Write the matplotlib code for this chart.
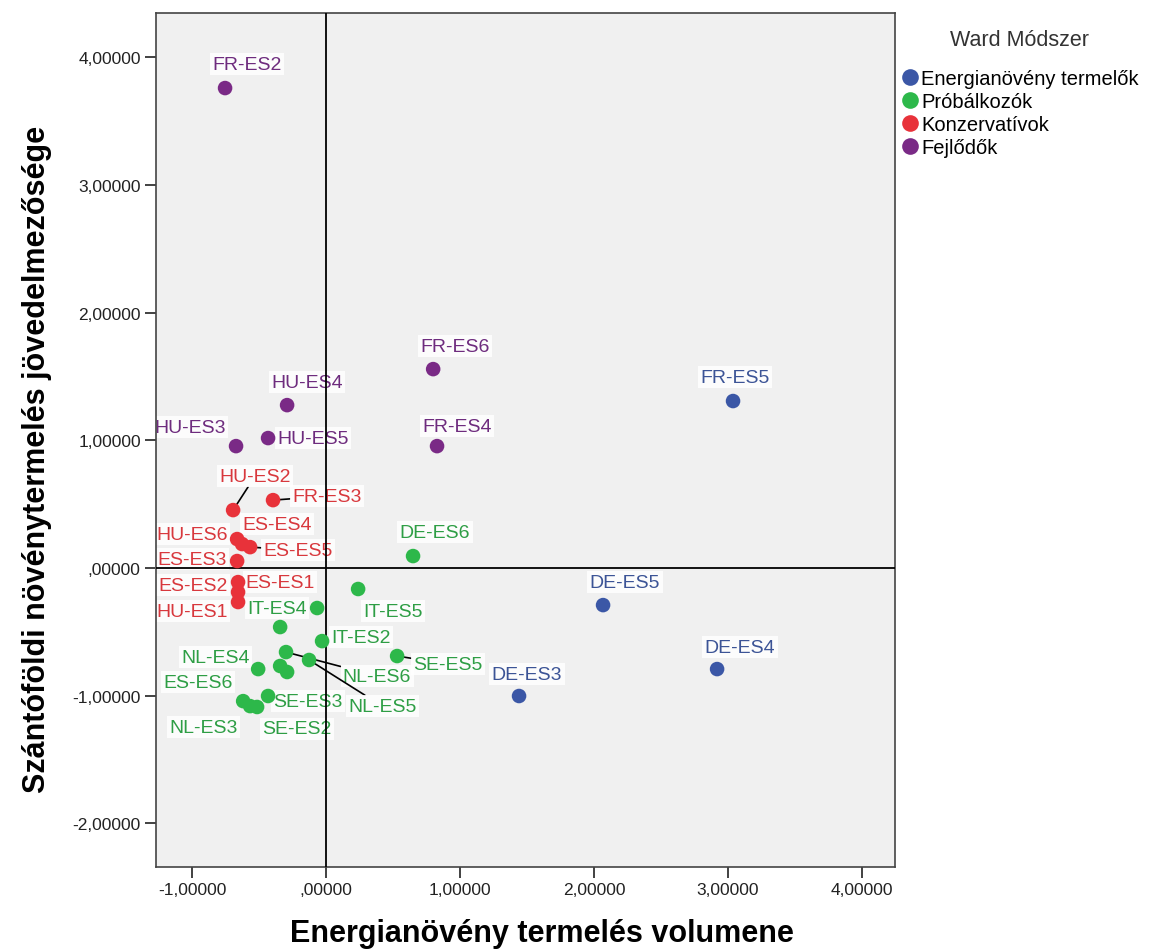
import matplotlib
matplotlib.use("Agg")
import matplotlib.pyplot as plt
from matplotlib.lines import Line2D
from matplotlib.ticker import FuncFormatter

plt.rcParams['font.family'] = ['Liberation Sans', 'DejaVu Sans']

# klaszterek (Ward módszer)
cluster_names = ['Energianövény termelők', 'Próbálkozók', 'Konzervatívok', 'Fejlődők']
cluster_colors = ['#3B57A6', '#2DB84A', '#E8323A', '#7A2A86']
label_colors = ['#3C5496', '#2E9E45', '#D8383D', '#6E2C7E']

# Energianövény termelők
blue_names = ['FR-ES5', 'DE-ES5', 'DE-ES4', 'DE-ES3']
blue_x = [3.037, 2.067, 2.918, 1.440]
blue_y = [1.308, -0.290, -0.791, -1.002]

# Próbálkozók ('' = felirat nélkül)
green_names = ['DE-ES6', 'IT-ES5', 'IT-ES4', 'IT-ES2', 'NL-ES6', 'NL-ES5', 'NL-ES4',
               'ES-ES6', 'SE-ES3', 'NL-ES3', 'SE-ES2', 'SE-ES5', '', '', '']
green_x = [0.649, 0.239, -0.067, -0.030, -0.299, -0.127, -0.507,
           -0.619, -0.433, -0.567, -0.515, 0.530, -0.343, -0.343, -0.291]
green_y = [0.094, -0.164, -0.313, -0.572, -0.658, -0.720, -0.791,
           -1.042, -1.002, -1.081, -1.088, -0.689, -0.462, -0.767, -0.814]

# Konzervatívok
red_names = ['HU-ES2', 'FR-ES3', 'HU-ES6', 'ES-ES4', 'ES-ES5', 'ES-ES3', 'ES-ES2', 'ES-ES1', 'HU-ES1']
red_x = [-0.694, -0.396, -0.664, -0.627, -0.567, -0.664, -0.657, -0.657, -0.657]
red_y = [0.454, 0.532, 0.227, 0.188, 0.164, 0.055, -0.110, -0.188, -0.266]

# Fejlődők
purple_names = ['FR-ES2', 'FR-ES6', 'HU-ES4', 'FR-ES4', 'HU-ES3', 'HU-ES5']
purple_x = [-0.754, 0.799, -0.291, 0.828, -0.672, -0.433]
purple_y = [3.759, 1.558, 1.276, 0.955, 0.955, 1.018]

# feliratok eltolása pixelben (jobbra, fel)
offsets = {
    'FR-ES5': (2, 24), 'DE-ES5': (22, 23), 'DE-ES4': (23, 22), 'DE-ES3': (8, 22),
    'DE-ES6': (22, 24), 'IT-ES5': (35, -22), 'IT-ES4': (-40, 0), 'IT-ES2': (39, 4),
    'NL-ES6': (91, -24), 'NL-ES5': (73, -46), 'NL-ES4': (-43, 12), 'ES-ES6': (-45, 19),
    'SE-ES3': (40, -5), 'NL-ES3': (-47, -21), 'SE-ES2': (40, -22), 'SE-ES5': (51, -8),
    'HU-ES2': (22, 34), 'FR-ES3': (54, 4), 'HU-ES6': (-45, 5), 'ES-ES4': (35, 20),
    'ES-ES5': (48, -3), 'ES-ES3': (-45, 2), 'ES-ES2': (-45, -3), 'ES-ES1': (42, 10),
    'HU-ES1': (-46, -9),
    'FR-ES2': (22, 24), 'FR-ES6': (22, 23), 'HU-ES4': (20, 23), 'FR-ES4': (20, 20),
    'HU-ES3': (-46, 19), 'HU-ES5': (45, 0),
}
# vezetővonalas feliratok
leaders = ['HU-ES2', 'FR-ES3', 'ES-ES5', 'NL-ES6', 'NL-ES5', 'SE-ES5']

groups = [(blue_names, blue_x, blue_y), (green_names, green_x, green_y),
          (red_names, red_x, red_y), (purple_names, purple_x, purple_y)]

fig = plt.figure(figsize=(11.5, 9.53), dpi=100)
ax = fig.add_axes([0.1357, 0.0892, 0.6426, 0.896])
ax.set_facecolor('#F0F0F0')

px2pt = 0.72
for (names, xs, ys), col, lcol in zip(groups, cluster_colors, label_colors):
    ax.scatter(xs, ys, s=110, color=col, edgecolors='none', zorder=4)
    for n, x, y in zip(names, xs, ys):
        if not n:
            continue
        dx, dy = offsets[n]
        arrow = None
        if n in leaders:
            arrow = dict(arrowstyle='-', color='black', lw=1.2, shrinkA=0, shrinkB=4)
        ax.annotate(n, (x, y), xytext=(dx * px2pt, dy * px2pt), textcoords='offset points',
                    ha='center', va='center', fontsize=14, color=lcol, zorder=2,
                    bbox=dict(boxstyle='square,pad=0.12', fc='white', ec='none', alpha=0.85),
                    arrowprops=arrow)

ax.axhline(0, color='black', lw=1.3, zorder=3)
ax.axvline(0, color='black', lw=1.3, zorder=3)

ax.set_xlim(-1.269, 4.246)
ax.set_ylim(-2.341, 4.346)
ax.set_xticks([-1, 0, 1, 2, 3, 4])
ax.set_yticks([-2, -1, 0, 1, 2, 3, 4])


def fmt(v, pos):
    s = '%.5f' % v
    if s.startswith('-0.'):
        s = s[1:]
    if s.startswith('0.'):
        s = s[1:]
    return s.replace('.', ',')


ax.xaxis.set_major_formatter(FuncFormatter(fmt))
ax.yaxis.set_major_formatter(FuncFormatter(fmt))
ax.tick_params(direction='out', length=8, width=1.3, color='#333333',
               labelsize=12.5, labelcolor='#222222', pad=3)
for sp in ax.spines.values():
    sp.set_color('#444444')
    sp.set_linewidth(1.2)

ax.set_xlabel('Energianövény termelés volumene', fontsize=22, fontweight='bold')
ax.set_ylabel('Szántóföldi növénytermelés jövedelmezősége', fontsize=22, fontweight='bold')
ax.xaxis.set_label_coords(0.522, -0.060)
ax.yaxis.set_label_coords(-0.141, 0.479)

handles = [Line2D([], [], marker='o', ls='none', markersize=12, color=c, markeredgecolor='none')
           for c in cluster_colors]
leg = ax.legend(handles, cluster_names, title='Ward Módszer', loc='upper left',
                bbox_to_anchor=(0.99, 0.996), frameon=False, fontsize=14.5, title_fontsize=15.5,
                handletextpad=0.05, handlelength=1.0, labelspacing=0.2, borderaxespad=0.2)
leg.get_title().set_color('#333333')
leg._legend_box.sep = 14  # nagyobb hézag a cím alatt

fig.savefig('out.png', dpi=100)
